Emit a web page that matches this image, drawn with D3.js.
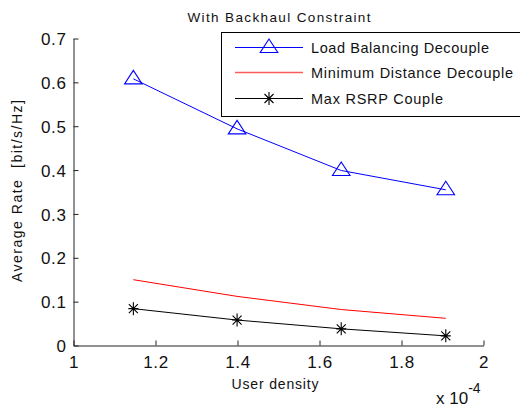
<!DOCTYPE html>
<html>
<head>
<meta charset="utf-8">
<script src="https://cdn.jsdelivr.net/npm/d3@7"></script>
<style>
  html, body { margin: 0; padding: 0; background: #fff; }
  svg { display: block; font-family: Arial, "Liberation Sans", Helvetica, sans-serif; }
</style>
</head>
<body>
<svg id="chart" width="520" height="412"></svg>
<script>
// ---- data ----
const userDensity = [1.146, 1.399, 1.653, 1.908];           // x 10^-4
const loadBalancingDecouple = [0.608, 0.494, 0.399, 0.355];
const minimumDistanceDecouple = [0.150, 0.112, 0.082, 0.062];
const maxRSRPCouple = [0.084, 0.058, 0.038, 0.022];
const xTicks = [1, 1.2, 1.4, 1.6, 1.8, 2];
const yTicks = [0, 0.1, 0.2, 0.3, 0.4, 0.5, 0.6, 0.7];
const seriesNames = ["Load Balancing Decouple", "Minimum Distance Decouple", "Max RSRP Couple"];

const svg = d3.select("#chart");
const plotLeft = 73.5, plotRight = 483.5, plotTop = 38.5, plotBottom = 345.5;

const x = d3.scaleLinear().domain([1, 2]).range([plotLeft, plotRight]);
const y = d3.scaleLinear().domain([0, 0.7]).range([plotBottom, plotTop]);

// axes
const xAxis = d3.axisBottom(x).tickValues(xTicks).tickSizeInner(-5).tickSizeOuter(0)
  .tickFormat(d => d3.format("")(+d.toFixed(1)));
const gx = svg.append("g").attr("transform", `translate(0,${plotBottom})`).call(xAxis);
gx.select(".domain").attr("stroke", "#222");
gx.selectAll(".tick line").attr("stroke", "#222");
gx.selectAll(".tick text").attr("fill", "#111").attr("font-size", 17)
  .attr("letter-spacing", "0.6px").attr("y", 10).attr("dy", "0.71em");

const yAxis = d3.axisLeft(y).tickValues(yTicks).tickSizeInner(-5).tickSizeOuter(0)
  .tickFormat(d => d3.format("")(+d.toFixed(1)));
const gy = svg.append("g").attr("transform", `translate(${plotLeft},0)`).call(yAxis);
gy.select(".domain").attr("stroke", "#222");
gy.selectAll(".tick line").attr("stroke", "#222");
gy.selectAll(".tick text").attr("fill", "#111").attr("font-size", 17)
  .attr("letter-spacing", "0.6px").attr("x", -7).attr("dy", "0.36em");

// title and labels
svg.append("text").attr("x", (plotLeft + plotRight) / 2 + 0.5).attr("y", 21.5)
  .attr("text-anchor", "middle").attr("font-size", 13.5).attr("fill", "#111")
  .attr("textLength", 183).attr("lengthAdjust", "spacing")
  .text("With Backhaul Constraint");

svg.append("text").attr("x", 275).attr("y", 389)
  .attr("text-anchor", "middle").attr("font-size", 14).attr("fill", "#111")
  .attr("textLength", 87).attr("lengthAdjust", "spacing")
  .text("User density");

svg.append("text").attr("transform", "translate(22,191) rotate(-90)")
  .attr("text-anchor", "middle").attr("font-size", 14).attr("fill", "#111")
  .attr("textLength", 182).attr("lengthAdjust", "spacing")
  .attr("xml:space", "preserve")
  .text("Average Rate  [bit/s/Hz]");

const exp = svg.append("text").attr("x", 436).attr("y", 404)
  .attr("font-size", 17).attr("fill", "#111");
exp.append("tspan").text("x 10");
exp.append("tspan").attr("font-size", 14).attr("dy", -11).text("-4");

// lines
const line = d3.line().x((d, i) => x(userDensity[i])).y(d => y(d));
const colors = ["#0000ff", "#ff0000", "#000000"];
const series = [loadBalancingDecouple, minimumDistanceDecouple, maxRSRPCouple];

series.forEach((s, k) => {
  svg.append("path").datum(s).attr("d", line)
    .attr("fill", "none").attr("stroke", colors[k]).attr("stroke-width", 1);
});

function triangle(g, cx, cy, color) {
  g.append("path")
    .attr("d", `M${cx},${cy - 8.5} L${cx + 8.8},${cy + 5} L${cx - 8.8},${cy + 5} Z`)
    .attr("fill", "none").attr("stroke", color).attr("stroke-width", 1.1);
}
function asterisk(g, cx, cy, color) {
  const r = 6.5, h = 5, d = 4.5;
  g.append("path")
    .attr("d", `M${cx},${cy - r} L${cx},${cy + r} M${cx - h},${cy} L${cx + h},${cy} ` +
               `M${cx - d},${cy - d} L${cx + d},${cy + d} M${cx - d},${cy + d} L${cx + d},${cy - d}`)
    .attr("fill", "none").attr("stroke", color).attr("stroke-width", 1.1);
}

const markers = svg.append("g");
loadBalancingDecouple.forEach((v, i) => triangle(markers, x(userDensity[i]), y(v), colors[0]));
maxRSRPCouple.forEach((v, i) => asterisk(markers, x(userDensity[i]), y(v), colors[2]));

// legend
const lg = svg.append("g");
lg.append("rect").attr("x", 221.5).attr("y", 32.5).attr("width", 310).attr("height", 84)
  .attr("fill", "#fff").attr("stroke", "#000").attr("stroke-width", 1);
const rowY = [47.5, 72.5, 98.5];
const textLen = [178, 202, 132];
seriesNames.forEach((name, k) => {
  lg.append("line").attr("x1", 235).attr("x2", 303).attr("y1", rowY[k]).attr("y2", rowY[k])
    .attr("stroke", k === 1 ? "#ff5a5a" : colors[k]).attr("stroke-width", k === 1 ? 1.3 : 1);
  if (k === 0) triangle(lg, 269, rowY[k], colors[0]);
  if (k === 2) asterisk(lg, 269, rowY[k], colors[2]);
  lg.append("text").attr("x", 311).attr("y", rowY[k] + 5.3)
    .attr("font-size", 14.5).attr("fill", "#111")
    .attr("textLength", textLen[k]).attr("lengthAdjust", "spacing")
    .text(name);
});
</script>
</body>
</html>
